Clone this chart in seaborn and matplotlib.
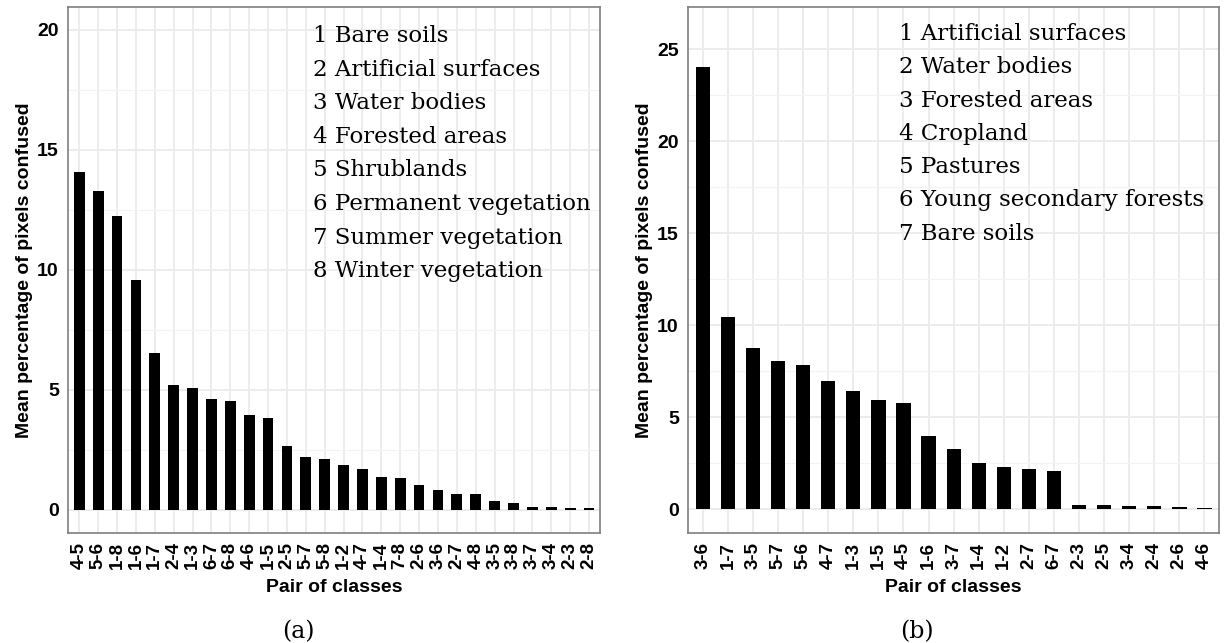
import matplotlib
matplotlib.use("Agg")
import matplotlib.pyplot as plt
import pandas as pd
import seaborn as sns
from matplotlib.ticker import MultipleLocator

# (a) eight-class case
pairs_a = ['4-5', '5-6', '1-8', '1-6', '1-7', '2-4', '1-3', '6-7', '6-8', '4-6',
           '1-5', '2-5', '5-7', '5-8', '1-2', '4-7', '1-4', '7-8', '2-6', '3-6',
           '2-7', '4-8', '3-5', '3-8', '3-7', '3-4', '2-3', '2-8']
values_a = [14.07, 13.27, 12.23, 9.57, 6.53, 5.22, 5.08, 4.61, 4.54, 3.94,
            3.85, 2.68, 2.22, 2.13, 1.88, 1.72, 1.38, 1.35, 1.02, 0.82,
            0.68, 0.65, 0.36, 0.29, 0.12, 0.11, 0.10, 0.06]
classes_a = ['1 Bare soils', '2 Artificial surfaces', '3 Water bodies',
             '4 Forested areas', '5 Shrublands', '6 Permanent vegetation',
             '7 Summer vegetation', '8 Winter vegetation']
yticks_a = [0, 5, 10, 15, 20]

# (b) seven-class case
pairs_b = ['3-6', '1-7', '3-5', '5-7', '5-6', '4-7', '1-3', '1-5', '4-5', '1-6',
           '3-7', '1-4', '1-2', '2-7', '6-7', '2-3', '2-5', '3-4', '2-4', '2-6', '4-6']
values_b = [24.0, 10.42, 8.77, 8.05, 7.83, 6.96, 6.45, 5.92, 5.79, 3.96,
            3.30, 2.54, 2.32, 2.19, 2.08, 0.24, 0.24, 0.18, 0.18, 0.12, 0.08]
classes_b = ['1 Artificial surfaces', '2 Water bodies', '3 Forested areas',
             '4 Cropland', '5 Pastures', '6 Young secondary forests', '7 Bare soils']
yticks_b = [0, 5, 10, 15, 20, 25]

W, H = 1228, 643
SANS = ['Liberation Sans', 'DejaVu Sans']
SERIF = ['DejaVu Serif']
BORDER = '#7f7f7f'

sns.set_style('white')
plt.rcParams['font.family'] = SANS
plt.rcParams['text.color'] = 'black'
plt.rcParams['axes.labelcolor'] = 'black'

fig = plt.figure(figsize=(W / 100, H / 100), dpi=100)


def px_axes(left, right, top, bottom):
    return fig.add_axes([left / W, 1 - bottom / H, (right - left) / W, (bottom - top) / H])


def draw_panel(ax, pairs, values, classes, yticks, ylim, text_x, text_y0, text_dy, ylab_x):
    df = pd.DataFrame({'pair': pairs, 'value': values})
    sns.barplot(data=df, x='pair', y='value', order=pairs, color='black',
                saturation=1, width=0.57, linewidth=0, ax=ax)
    n = len(pairs)
    ax.set_xlim(-0.58, n - 1 + 0.58)
    ax.set_ylim(*ylim)
    ax.set_yticks(yticks)
    ax.yaxis.set_minor_locator(MultipleLocator(2.5))
    ax.set_axisbelow(True)
    ax.grid(which='major', color='#ebebeb', linewidth=1.3)
    ax.grid(which='minor', axis='y', color='#f3f3f3', linewidth=0.8)

    for s in ax.spines.values():
        s.set_visible(True)
        s.set_color(BORDER)
        s.set_linewidth(1.2)
    ax.tick_params(which='major', direction='out', length=4.8, width=1.0,
                   color=BORDER, labelcolor='black', pad=2)
    ax.tick_params(which='minor', length=0)
    ax.tick_params(axis='x', labelrotation=90)
    for lab in ax.get_xticklabels():
        lab.set_fontsize(13.5)
        lab.set_fontweight('bold')
    for lab in ax.get_yticklabels():
        lab.set_fontsize(14)
        lab.set_fontweight('bold')

    ax.set_xlabel('Pair of classes', fontsize=14, fontweight='bold')
    ax.set_ylabel('Mean percentage of pixels confused', fontsize=14, fontweight='bold')
    ax.xaxis.set_label_coords(0.5, -0.088)
    ax.yaxis.set_label_coords(ylab_x, 0.5)

    for i, name in enumerate(classes):
        ax.text(text_x, text_y0 - i * text_dy, name, transform=ax.transAxes,
                ha='left', va='baseline', fontsize=16.5, family=SERIF, color='black')


ax_a = px_axes(68.3, 600, 6.7, 532.7)
draw_panel(ax_a, pairs_a, values_a, classes_a, yticks_a, (-0.95, 20.97),
           0.460, 0.9329, 0.0639, -0.0658)

ax_b = px_axes(688.3, 1219, 6.7, 532.7)
draw_panel(ax_b, pairs_b, values_b, classes_b, yticks_b, (-1.27, 27.3),
           0.397, 0.9367, 0.0633, -0.0671)

fig.text(298 / W, 1 - 632 / H, '(a)', ha='center', va='center', fontsize=17, family=SERIF)
fig.text(917 / W, 1 - 632 / H, '(b)', ha='center', va='center', fontsize=17, family=SERIF)

fig.savefig('out.png', dpi=100, facecolor='white')
